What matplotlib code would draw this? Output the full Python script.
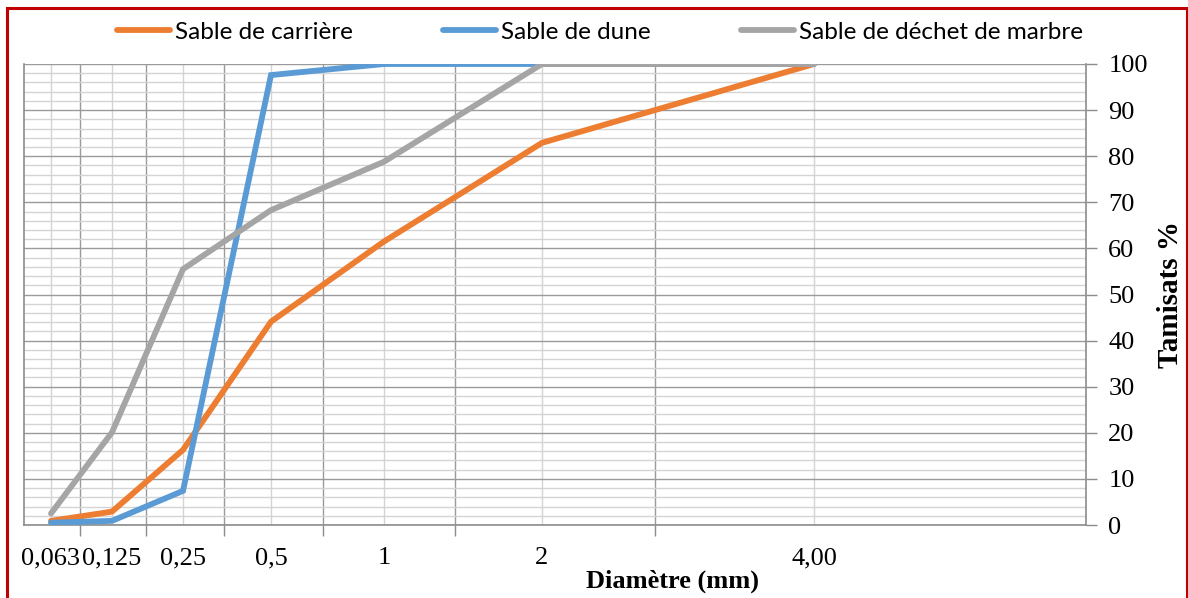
import numpy as np
import matplotlib.pyplot as plt
from matplotlib.patches import Rectangle
from matplotlib.ticker import FixedLocator, NullFormatter, MultipleLocator

# sieve openings (mm) and passing percentages
sieves = [0.063, 0.125, 0.25, 0.5, 1, 2, 4]
sieve_labels = ["0,063", "0,125", "0,25", "0,5", "1", "2", "4,00"]
carriere = [0.9, 2.9, 16.3, 44.1, 61.5, 82.9, 100]
dune = [0.5, 0.9, 7.4, 97.6, 100, 100, 100]
marbre = [2.5, 20.1, 55.5, 68.3, 78.8, 100, 100]

series_names = ["Sable de carrière", "Sable de dune", "Sable de déchet de marbre"]
colors = ["#ED7D31", "#5B9BD5", "#A5A5A5"]

# piecewise scale for the diameter axis (log2 knots -> axis units)
knot_d = np.array([0.0315] + sieves + [8.0])
knot_p = np.array([24, 51, 112, 183, 271, 384, 542, 814, 1086], dtype=float)


def fwd(d):
    d = np.clip(np.asarray(d, dtype=float), 1e-6, None)
    return np.interp(np.log2(d), np.log2(knot_d), knot_p)


def inv(p):
    return 2 ** np.interp(np.asarray(p, dtype=float), knot_p, np.log2(knot_d))


W, H = 1188, 598
fig = plt.figure(figsize=(W / 100, H / 100), dpi=100)
ax = fig.add_axes([24 / W, 1 - 525 / H, (1086 - 24) / W, (525 - 64) / H])
ax.set_xscale("function", functions=(fwd, inv))
ax.set_xlim(knot_d[0], knot_d[-1])
ax.set_ylim(0, 100)

for vals, name, c in zip([carriere, dune, marbre], series_names, colors):
    ax.plot(sieves, vals, color=c, lw=4.2, label=name, solid_capstyle="round",
            solid_joinstyle="miter", zorder=3)

serif = ["Liberation Serif", "DejaVu Serif"]

# x: labels sit on the sieve sizes, ticks/major grid on the boundaries
bounds = inv([80, 146, 224, 323, 455, 655])
ax.xaxis.set_major_locator(FixedLocator(bounds))
ax.xaxis.set_major_formatter(NullFormatter())
ax.xaxis.set_minor_locator(FixedLocator(sieves))
ax.set_xticklabels(sieve_labels, minor=True)
ax.tick_params(axis="x", which="major", length=8, width=1, color="#8c8c8c", direction="out")
ax.tick_params(axis="x", which="minor", length=0, pad=16, labelsize=19,
               labelfontfamily=serif)

# y on the right side
ax.yaxis.tick_right()
ax.yaxis.set_label_position("right")
ax.yaxis.set_major_locator(MultipleLocator(10))
ax.yaxis.set_minor_locator(MultipleLocator(2))
ax.tick_params(axis="y", which="major", length=8, width=1, color="#8c8c8c", pad=8,
               labelsize=19, labelfontfamily=serif)
ax.tick_params(axis="y", which="minor", length=0)

ax.grid(True, which="major", color="#9a9a9a", lw=1.0, zorder=1)
ax.grid(True, which="minor", color="#d4d4d4", lw=1.0, zorder=0)

for s in ["left", "right", "bottom"]:
    ax.spines[s].set_color("#8c8c8c")
    ax.spines[s].set_linewidth(1.2)
ax.spines["top"].set_visible(False)

ax.set_ylabel("Tamisats %", family=serif, fontsize=21, fontweight="bold")
ax.yaxis.set_label_coords((1171 - 24) / (1086 - 24), 0.5)
ax.set_xlabel("Diamètre (mm)", family=serif, fontsize=19, fontweight="bold")
ax.xaxis.set_label_coords((672 - 24) / (1086 - 24), -(581 - 525) / (525 - 64))
ax.xaxis.label.set_va("center")
ax.yaxis.label.set_va("center")

fig.legend(loc="center", bbox_to_anchor=(600 / W, 1 - 32 / H), ncol=3, frameon=False,
           prop={"family": "Lato", "size": 17.5}, handlelength=2.2, handletextpad=0.2,
           columnspacing=3.7)

# red frame round the chart
fig.patches.append(Rectangle((7 / W, -0.01), (1187 - 7) / W, 1 - 8 / H + 0.01,
                             transform=fig.transFigure, fill=False,
                             edgecolor="#C00000", lw=2.2))

fig.savefig("out.png", dpi=100)
